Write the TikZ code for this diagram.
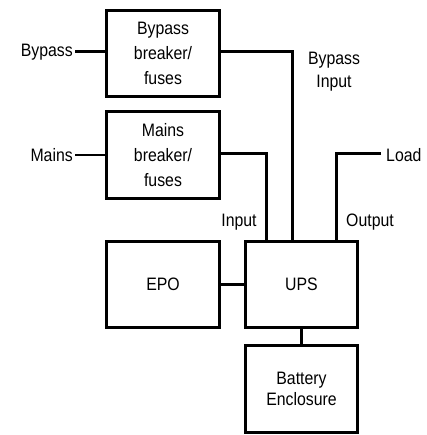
\documentclass[tikz,border=0pt]{standalone}
\usepackage{fontspec}
\setmainfont{Liberation Sans}[FakeStretch=0.88]
\begin{document}
\begin{tikzpicture}[x=1pt,y=-1pt,
  blk/.style={minimum width=112pt,minimum height=86pt,inner sep=0pt,align=center,font=\fontsize{18}{25}\selectfont},
  frame/.style={line width=3pt,line join=miter},
  wire/.style={line width=3pt},
  lbl/.style={inner sep=0pt,align=center,font=\fontsize{18}{23}\selectfont}]
\useasboundingbox (0,0) rectangle (426,435);
\node[blk] (byp) at (163,53.5) {Bypass\\breaker/\\fuses};
\node[blk] (mai) at (163,155) {Mains\\breaker/\\fuses};
\node[blk] (epo) at (163,284.5) {EPO};
\node[blk] (ups) at (301.5,284.5) {UPS};
\node[blk,font=\fontsize{18}{21.5}\selectfont] (bat) at (301.5,389) {Battery\\Enclosure};
\foreach \n in {byp,mai,epo,ups,bat}
  \draw[frame] (\n.north west) rectangle (\n.south east);
\node[lbl,anchor=east] (lbyp) at (73,52) {Bypass};
\node[lbl,anchor=east] (lmai) at (73,155) {Mains};
\node[lbl,anchor=west] (lload) at (386,155) {Load};
\node[lbl] (lbi) at (334,72) {Bypass\\Input};
\node[lbl] (lin) at (239,222) {Input};
\node[lbl] (lout) at (370,222) {Output};
\coordinate (bypc) at (292,52);
\coordinate (maic) at (266,154);
\coordinate (outc) at (336,154);
\coordinate (loade) at (381,154);
\draw[wire] (lbyp.east) ++(2,0) -- (byp.west |- 0,52);
\draw[wire,line width=2.4pt] (lmai.east) ++(2,0) -- (mai.west);
\draw[wire] (byp.east |- bypc) -- (bypc) -- (bypc |- ups.north);
\draw[wire] (mai.east |- maic) -- (maic) -- (maic |- ups.north);
\draw[wire] (loade) -- (outc) -- (outc |- ups.north);
\draw[wire] (epo.east) -- (ups.west);
\draw[wire] (ups.south) -- (bat.north);
\end{tikzpicture}
\end{document}
